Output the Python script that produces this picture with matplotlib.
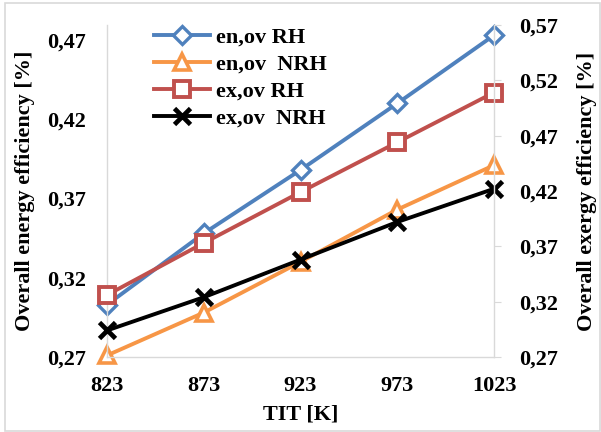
import matplotlib
matplotlib.use("Agg")
import matplotlib.pyplot as plt
from matplotlib.patches import Rectangle

tit = [823, 873, 923, 973, 1023]
en_rh = [0.303, 0.348, 0.388, 0.430, 0.473]
en_nrh = [0.271, 0.298, 0.330, 0.363, 0.391]
ex_rh = [0.326, 0.373, 0.419, 0.464, 0.509]
ex_nrh = [0.294, 0.324, 0.358, 0.392, 0.422]
left_ticks = [0.27, 0.32, 0.37, 0.42, 0.47]
right_ticks = [0.27, 0.32, 0.37, 0.42, 0.47, 0.52, 0.57]

plt.rcParams['font.family'] = 'Liberation Serif'
plt.rcParams['font.weight'] = 'bold'
FS = 16
fp = dict(fontsize=FS, fontweight='bold', family='Liberation Serif')

fig = plt.figure(figsize=(6.01, 4.32), dpi=100)
ax = fig.add_axes([107/601, 1-357/432, (494-107)/601, (357-25)/432])
ax2 = ax.twinx()

blue = '#4F81BD'; orange = '#F79646'; red = '#C0504D'
h1, = ax.plot(tit, en_rh, color=blue, lw=2.8, marker='D', ms=9.5, mfc='white', mec=blue, mew=2.4, label='en,ov RH', clip_on=False)
h2, = ax.plot(tit, en_nrh, color=orange, lw=2.8, marker='^', ms=11, mfc='white', mec=orange, mew=2.6, label='en,ov  NRH', clip_on=False)
h3, = ax2.plot(tit, ex_rh, color=red, lw=2.8, marker='s', ms=11, mfc='white', mec=red, mew=2.8, label='ex,ov RH', clip_on=False)
h4, = ax2.plot(tit, ex_nrh, color='black', lw=2.8, marker='x', ms=11, mec='black', mew=3.4, label='ex,ov  NRH', clip_on=False)

ax.set_xlim(823, 1023)
ax.set_ylim(0.27, 0.27 + (357-25)/79.25*0.05)
ax2.set_ylim(0.27, 0.57)
ax.set_xticks(tit)
ax.set_xticklabels([str(t) for t in tit], **fp)
ax.set_yticks(left_ticks)
ax.set_yticklabels([f"{v:.2f}".replace('.', ',') for v in left_ticks], **fp)
ax2.set_yticks(right_ticks)
ax2.set_yticklabels([f"{v:.2f}".replace('.', ',') for v in right_ticks], **fp)

gray = '#D9D9D9'
for a in (ax, ax2):
    for s in a.spines.values():
        s.set_color(gray)
        s.set_linewidth(1.0)
    a.spines['top'].set_visible(False)
ax.spines['right'].set_visible(False)
ax2.spines['left'].set_visible(False)
ax2.spines['bottom'].set_visible(False)
ax.tick_params(axis='y', length=0, pad=15)
ax.tick_params(axis='x', length=0, pad=14)
ax2.tick_params(axis='y', length=5, color=gray, pad=13)

ax.set_xlabel('TIT [K]', labelpad=6, **fp)
ax.set_ylabel('Overall energy efficiency [%]', labelpad=9, **fp)
ax2.set_ylabel('Overall exergy efficiency [%]', labelpad=14, **fp)

leg = ax2.legend(handles=[h1, h2, h3, h4], loc='upper left', bbox_to_anchor=(0.07, 1.055),
                 frameon=False, prop={'size': FS, 'weight': 'bold', 'family': 'Liberation Serif'},
                 handlelength=2.5, labelspacing=0.3, handletextpad=0.3)

fig.patches.append(Rectangle((5/601, 0.002), 1-5/601-0.002, 1-3/432-0.002, transform=fig.transFigure,
                             fill=False, edgecolor=gray, lw=1.2))

fig.savefig('out.png', dpi=100)
